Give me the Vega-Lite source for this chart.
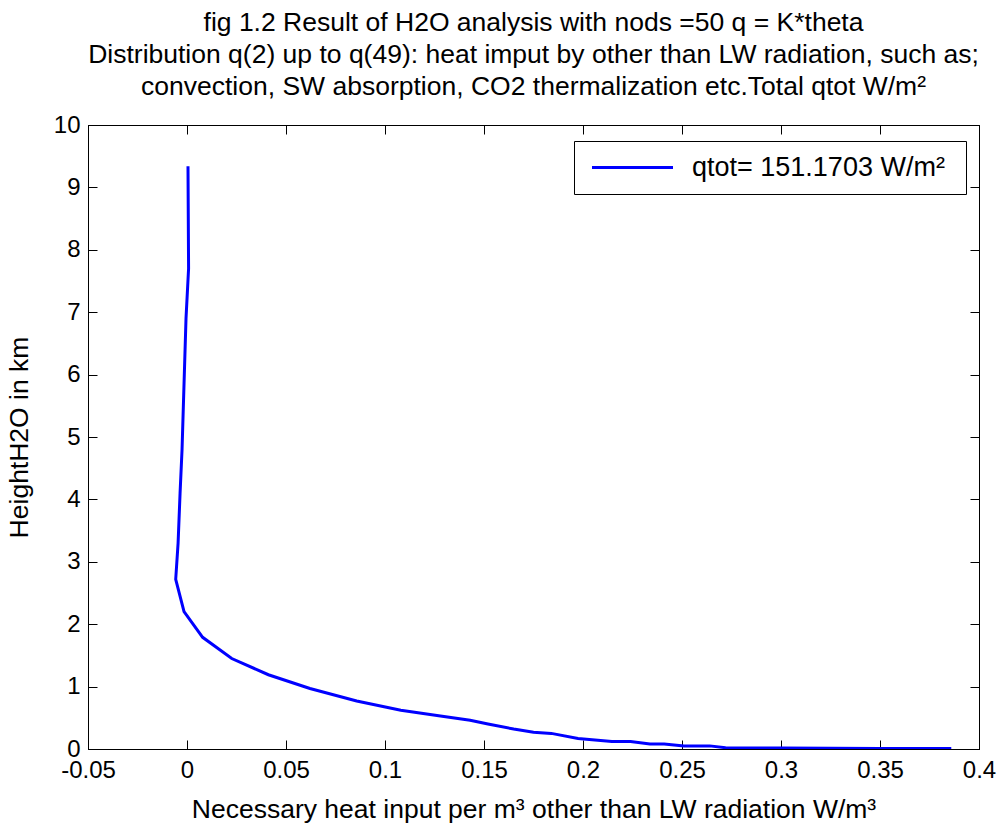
{
  "$schema": "https://vega.github.io/schema/vega-lite/v6.json",
  "width": 891,
  "height": 624,
  "autosize": "none",
  "padding": {"left": 88, "top": 125, "right": 18, "bottom": 78},
  "background": "white",
  "config": {
    "font": "Liberation Sans",
    "view": {"stroke": "black", "strokeWidth": 1}
  },
  "title": {
    "text": [
      "fig 1.2 Result of H2O analysis with nods =50  q = K*theta",
      "Distribution q(2) up to q(49): heat imput by other than LW radiation,  such as;",
      "convection, SW absorption, CO2 thermalization etc.Total qtot W/m²"
    ],
    "fontSize": 26.5,
    "fontWeight": "normal",
    "font": "Liberation Sans",
    "color": "black",
    "lineHeight": 32,
    "anchor": "middle",
    "offset": 13
  },
  "data": {
    "values": [
      {"i": 1, "q": 0.0005, "h": 9.34, "series": "qtot= 151.1703  W/m²"},
      {"i": 2, "q": 0.0008, "h": 7.7, "series": "qtot= 151.1703  W/m²"},
      {"i": 3, "q": -0.0005, "h": 6.9, "series": "qtot= 151.1703  W/m²"},
      {"i": 4, "q": -0.0025, "h": 4.8, "series": "qtot= 151.1703  W/m²"},
      {"i": 5, "q": -0.0035, "h": 4.1, "series": "qtot= 151.1703  W/m²"},
      {"i": 6, "q": -0.0045, "h": 3.3, "series": "qtot= 151.1703  W/m²"},
      {"i": 7, "q": -0.0057, "h": 2.72, "series": "qtot= 151.1703  W/m²"},
      {"i": 8, "q": -0.0015, "h": 2.2, "series": "qtot= 151.1703  W/m²"},
      {"i": 9, "q": 0.0079, "h": 1.79, "series": "qtot= 151.1703  W/m²"},
      {"i": 10, "q": 0.0226, "h": 1.45, "series": "qtot= 151.1703  W/m²"},
      {"i": 11, "q": 0.0411, "h": 1.19, "series": "qtot= 151.1703  W/m²"},
      {"i": 12, "q": 0.0621, "h": 0.97, "series": "qtot= 151.1703  W/m²"},
      {"i": 13, "q": 0.0857, "h": 0.77, "series": "qtot= 151.1703  W/m²"},
      {"i": 14, "q": 0.108, "h": 0.62, "series": "qtot= 151.1703  W/m²"},
      {"i": 15, "q": 0.128, "h": 0.53, "series": "qtot= 151.1703  W/m²"},
      {"i": 16, "q": 0.143, "h": 0.46, "series": "qtot= 151.1703  W/m²"},
      {"i": 17, "q": 0.152, "h": 0.4, "series": "qtot= 151.1703  W/m²"},
      {"i": 18, "q": 0.165, "h": 0.32, "series": "qtot= 151.1703  W/m²"},
      {"i": 19, "q": 0.175, "h": 0.27, "series": "qtot= 151.1703  W/m²"},
      {"i": 20, "q": 0.184, "h": 0.25, "series": "qtot= 151.1703  W/m²"},
      {"i": 21, "q": 0.1975, "h": 0.17, "series": "qtot= 151.1703  W/m²"},
      {"i": 22, "q": 0.2146, "h": 0.12, "series": "qtot= 151.1703  W/m²"},
      {"i": 23, "q": 0.224, "h": 0.12, "series": "qtot= 151.1703  W/m²"},
      {"i": 24, "q": 0.2338, "h": 0.08, "series": "qtot= 151.1703  W/m²"},
      {"i": 25, "q": 0.241, "h": 0.08, "series": "qtot= 151.1703  W/m²"},
      {"i": 26, "q": 0.251, "h": 0.05, "series": "qtot= 151.1703  W/m²"},
      {"i": 27, "q": 0.264, "h": 0.05, "series": "qtot= 151.1703  W/m²"},
      {"i": 28, "q": 0.272, "h": 0.02, "series": "qtot= 151.1703  W/m²"},
      {"i": 29, "q": 0.3, "h": 0.015, "series": "qtot= 151.1703  W/m²"},
      {"i": 30, "q": 0.35, "h": 0.01, "series": "qtot= 151.1703  W/m²"},
      {"i": 31, "q": 0.386, "h": 0.01, "series": "qtot= 151.1703  W/m²"}
    ]
  },
  "resolve": {"axis": {"x": "independent", "y": "independent"}},
  "layer": [
    {
      "mark": {"type": "line", "strokeWidth": 3, "clip": true},
      "encoding": {
        "x": {
          "field": "q", "type": "quantitative",
          "scale": {"domain": [-0.05, 0.4], "nice": false, "zero": false},
          "axis": {
            "orient": "bottom",
            "values": [-0.05, 0, 0.05, 0.1, 0.15, 0.2, 0.25, 0.3, 0.35, 0.4],
            "labelExpr": "'' + datum.value",
            "title": "Necessary heat input per m³ other than LW radiation  W/m³",
            "titleFont": "Liberation Sans", "titleFontSize": 26.5, "titleFontWeight": "normal",
            "titleColor": "black", "titlePadding": 14,
            "labelFont": "Liberation Sans", "labelFontSize": 24, "labelColor": "black",
            "labelPadding": 18, "labelFlush": false, "labelOverlap": false,
            "tickSize": -9, "tickColor": "black", "domainColor": "black",
            "grid": false
          }
        },
        "y": {
          "field": "h", "type": "quantitative",
          "scale": {"domain": [0, 10], "nice": false},
          "axis": {
            "orient": "left",
            "values": [0, 1, 2, 3, 4, 5, 6, 7, 8, 9, 10],
            "title": "HeightH2O in km",
            "titleFont": "Liberation Sans", "titleFontSize": 26.5, "titleFontWeight": "normal",
            "titleColor": "black", "titlePadding": 20,
            "labelFont": "Liberation Sans", "labelFontSize": 24, "labelColor": "black",
            "labelPadding": 17, "labelFlush": false, "labelOverlap": false,
            "tickSize": -9, "tickColor": "black", "domainColor": "black",
            "grid": false
          }
        },
        "order": {"field": "i", "type": "quantitative"},
        "color": {
          "field": "series", "type": "nominal",
          "scale": {"range": ["#0000ff"]},
          "legend": {
            "title": null,
            "orient": "none",
            "legendX": 486,
            "legendY": 16,
            "symbolType": "M-4.05,0H4.05",
            "symbolSize": 400,
            "symbolStrokeWidth": 3,
            "symbolOffset": 32,
            "labelFont": "Liberation Sans",
            "labelFontSize": 27,
            "labelColor": "black",
            "labelOffset": 46,
            "padding": 13,
            "strokeColor": "black",
            "fillColor": "white",
            "labelLimit": 400
          }
        }
      }
    },
    {
      "mark": {"type": "line", "opacity": 0},
      "encoding": {
        "x": {
          "field": "q", "type": "quantitative",
          "axis": {
            "orient": "top",
            "values": [-0.05, 0, 0.05, 0.1, 0.15, 0.2, 0.25, 0.3, 0.35, 0.4],
            "labels": false, "title": null,
            "tickSize": -9, "tickColor": "black", "domainColor": "black", "grid": false
          }
        },
        "y": {
          "field": "h", "type": "quantitative",
          "axis": {
            "orient": "right",
            "values": [0, 1, 2, 3, 4, 5, 6, 7, 8, 9, 10],
            "labels": false, "title": null,
            "tickSize": -9, "tickColor": "black", "domainColor": "black", "grid": false
          }
        },
        "order": {"field": "i", "type": "quantitative"}
      }
    }
  ]
}
